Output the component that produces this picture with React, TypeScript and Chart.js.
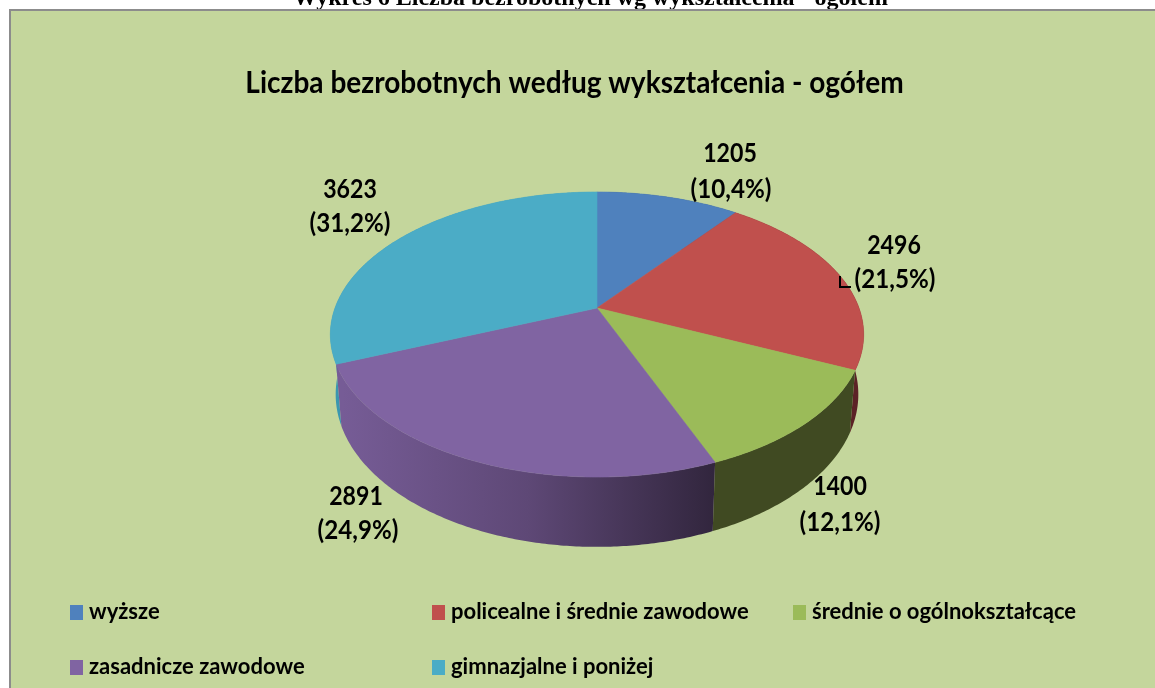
import React, { useEffect, useRef } from "react";
import { Chart, registerables } from "chart.js";

Chart.register(...registerables);

const pageHeading = "Wykres 6 Liczba bezrobotnych wg wykształcenia - ogółem";
const chartTitle = "Liczba bezrobotnych według wykształcenia - ogółem";
const categories = [
  "wyższe",
  "policealne i średnie zawodowe",
  "średnie o ogólnokształcące",
  "zasadnicze zawodowe",
  "gimnazjalne i poniżej",
];
const values = [1205, 2496, 1400, 2891, 3623];
const topColors = ["#4F81BD", "#C0504D", "#9BBB59", "#8064A2", "#4BACC6"];
const sideColors: (string | string[])[] = [
  "#2F4D71",
  "#5C2226",
  "#404A22",
  ["#765C96", "#5E4876", "#32263E"],
  "#3A97B0",
];
const labelCentres = [
  [730, 154, 731, 190],
  [894, 246, 895, 280],
  [840, 487, 840, 523],
  [356, 497, 358, 531],
  [350, 190, 350, 224],
];
const legendPositions = [
  [70, 612],
  [432, 612],
  [793, 612],
  [70, 667],
  [432, 667],
];

// perspective disc geometry
const CX = 597, CY = 308, RX = 262, RY = 137.6, K = 0.186;
const SIDE_SCALE_X = 0.98, SIDE_SCALE_Y = 1.07, SIDE_DROP = 58;
const FONT = "Lato, Carlito, sans-serif";

function project(a: number): [number, number] {
  const x = Math.cos(a), y = Math.sin(a);
  const w = 1 - K * y;
  return [(RX * x) / w, (RY * y) / w];
}
const topPt = (a: number): [number, number] => {
  const [x, y] = project(a);
  return [CX + x, CY + y];
};
const bottomPt = (a: number): [number, number] => {
  const [x, y] = project(a);
  return [CX + SIDE_SCALE_X * x, CY + SIDE_DROP + SIDE_SCALE_Y * y];
};
function samples(s: number, e: number): number[] {
  const n = Math.max(2, Math.ceil((e - s) / 0.01));
  const out: number[] = [];
  for (let i = 0; i <= n; i++) out.push(s + ((e - s) * i) / n);
  return out;
}
function condensedText(ctx: any, text: string, x: number, y: number, sx: number) {
  ctx.save();
  ctx.translate(x, y);
  ctx.scale(sx, 1);
  ctx.fillText(text, 0, 0);
  ctx.restore();
}

const perspectivePie = {
  id: "perspectivePie",
  beforeDraw(chart: any) {
    const { ctx, width, height } = chart;
    ctx.save();
    ctx.fillStyle = "#FFFFFF";
    ctx.fillRect(0, 0, width, height);
    ctx.fillStyle = "#000";
    ctx.font = "bold 24px 'Liberation Serif', serif";
    ctx.textAlign = "center";
    ctx.textBaseline = "alphabetic";
    ctx.fillText(pageHeading, 590.5, 5);
    ctx.fillStyle = "#8C8C8C";
    ctx.fillRect(9, 9, width - 9, height - 9);
    ctx.fillStyle = "#C4D69C";
    ctx.fillRect(11, 11, width - 11, height - 11);
    ctx.fillStyle = "#000";
    ctx.font = `bold 30px ${FONT}`;
    ctx.textBaseline = "middle";
    condensedText(ctx, chartTitle, 574.5, 83, 0.935);
    ctx.restore();
  },
  beforeDatasetDraw(chart: any) {
    const { ctx } = chart;
    const arcs = chart.getDatasetMeta(0).data as any[];
    const total = values.reduce((a, b) => a + b, 0);
    ctx.save();
    // sides, back to front
    const order = arcs
      .map((arc, i) => ({ arc, i }))
      .sort(
        (p, q) =>
          Math.sin((p.arc.startAngle + p.arc.endAngle) / 2) -
          Math.sin((q.arc.startAngle + q.arc.endAngle) / 2)
      );
    for (const { arc, i } of order) {
      const angles = samples(arc.startAngle, arc.endAngle);
      ctx.beginPath();
      angles.forEach((a, n) => {
        const p = topPt(a);
        n ? ctx.lineTo(p[0], p[1]) : ctx.moveTo(p[0], p[1]);
      });
      [...angles].reverse().forEach((a) => {
        const p = bottomPt(a);
        ctx.lineTo(p[0], p[1]);
      });
      ctx.closePath();
      const c = sideColors[i];
      if (Array.isArray(c)) {
        const g = ctx.createLinearGradient(343, 0, 713, 0);
        c.forEach((col, n) => g.addColorStop(n / (c.length - 1), col));
        ctx.fillStyle = g;
      } else {
        ctx.fillStyle = c;
      }
      ctx.fill();
    }
    // top face
    arcs.forEach((arc) => {
      ctx.beginPath();
      ctx.moveTo(CX, CY);
      samples(arc.startAngle, arc.endAngle).forEach((a) => {
        const p = topPt(a);
        ctx.lineTo(p[0], p[1]);
      });
      ctx.closePath();
      ctx.fillStyle = arc.options.backgroundColor;
      ctx.strokeStyle = arc.options.backgroundColor;
      ctx.lineWidth = 0.6;
      ctx.fill();
      ctx.stroke();
    });
    // data labels
    ctx.fillStyle = "#000";
    ctx.font = `bold 26px ${FONT}`;
    ctx.textAlign = "center";
    ctx.textBaseline = "middle";
    values.forEach((v, i) => {
      const pct = ((v / total) * 100).toFixed(1).replace(".", ",");
      const c = labelCentres[i];
      condensedText(ctx, String(v), c[0], c[1], 0.89);
      condensedText(ctx, `(${pct}%)`, c[2], c[3], 0.93);
    });
    // leader line
    ctx.strokeStyle = "#000";
    ctx.lineWidth = 2;
    ctx.beginPath();
    ctx.moveTo(840, 276);
    ctx.lineTo(840, 287);
    ctx.lineTo(851, 287);
    ctx.stroke();
    // legend
    ctx.font = `bold 22px ${FONT}`;
    ctx.textAlign = "left";
    categories.forEach((label, i) => {
      const [x, y] = legendPositions[i];
      ctx.fillStyle = topColors[i];
      ctx.fillRect(x, y - 7, 13, 15);
      ctx.fillStyle = "#000";
      ctx.fillText(label, x + 19, y);
    });
    ctx.restore();
    return false;
  },
};

export default function App() {
  const ref = useRef<HTMLCanvasElement>(null);
  useEffect(() => {
    document.body.style.margin = "0";
    const chart = new Chart(ref.current as HTMLCanvasElement, {
      type: "pie",
      data: {
        labels: categories,
        datasets: [{ data: values, backgroundColor: topColors, borderWidth: 0 }],
      },
      options: {
        animation: false,
        responsive: false,
        plugins: {
          legend: { display: false },
          tooltip: { enabled: false },
          title: { display: false, text: chartTitle },
        },
      },
      plugins: [perspectivePie],
    } as any);
    return () => chart.destroy();
  }, []);
  return (
    <canvas
      ref={ref}
      width={1155}
      height={688}
      style={{ display: "block", width: 1155, height: 688, filter: "blur(0.5px)" }}
    />
  );
}
